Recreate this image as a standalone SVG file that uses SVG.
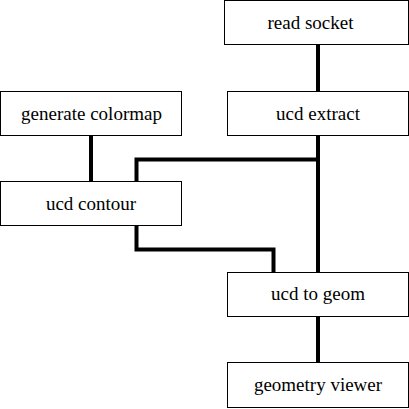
<svg xmlns="http://www.w3.org/2000/svg" width="409" height="409" viewBox="0 0 409 409">
<style>
.box{fill:#fff;stroke:#000;stroke-width:1}
.lbl{font-size:19px;fill:#000;text-anchor:middle}
.edge{fill:none;stroke:#000;stroke-width:4;stroke-linejoin:miter;stroke-linecap:butt}
</style>
<rect width="409" height="409" fill="#fff"/>
<g id="connectors">
<path class="edge" d="M318,45V91"/>
<path class="edge" d="M318,136V272"/>
<path class="edge" d="M318,159.5H136.5V181"/>
<path class="edge" d="M91,136V181"/>
<path class="edge" d="M136.5,226V249.5H273.5V272"/>
<path class="edge" d="M318,317V362"/>
</g>
<g font-family="Liberation Serif, DejaVu Serif, serif">
<g id="read_socket"><rect class="box" x="224.5" y="0.5" width="184" height="44"/><text class="lbl" x="310.5" y="29">read socket</text></g>
<g id="ucd_extract"><rect class="box" x="227.5" y="91.5" width="181" height="44"/><text class="lbl" x="318" y="119.5">ucd extract</text></g>
<g id="generate_colormap"><rect class="box" x="0.5" y="91.5" width="181" height="44"/><text class="lbl" x="91.5" y="119.5">generate colormap</text></g>
<g id="ucd_contour"><rect class="box" x="0.5" y="181.5" width="181" height="44"/><text class="lbl" x="91" y="209.5">ucd contour</text></g>
<g id="ucd_to_geom"><rect class="box" x="227.5" y="272.5" width="181" height="44"/><text class="lbl" x="318" y="300">ucd to geom</text></g>
<g id="geometry_viewer"><rect class="box" x="227.5" y="362.5" width="181" height="45"/><text class="lbl" x="318" y="390.5">geometry viewer</text></g>
</g>
</svg>
